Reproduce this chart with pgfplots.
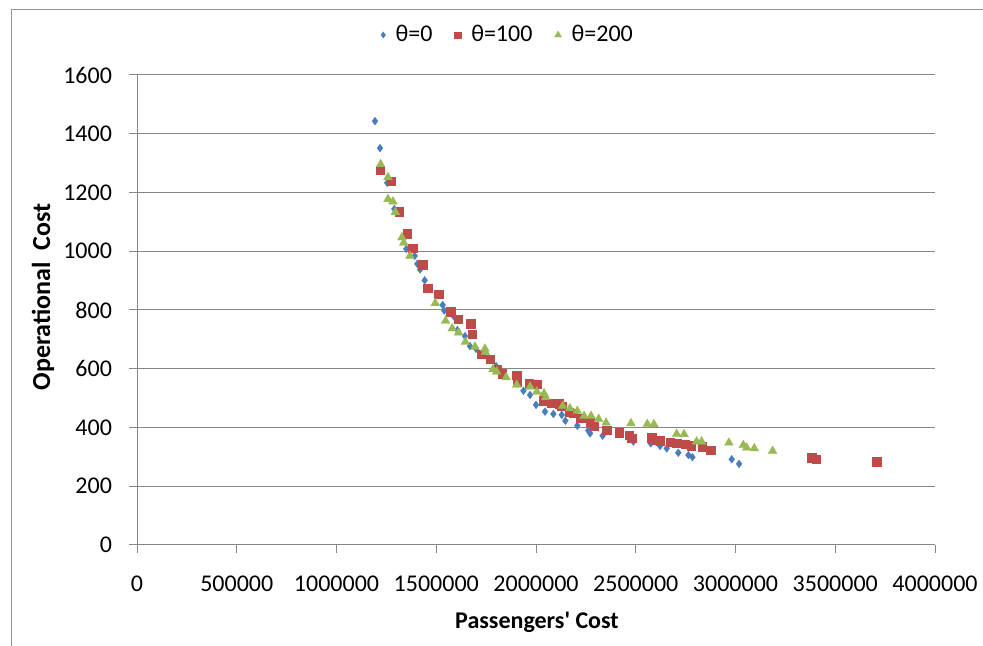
\documentclass[border=0pt]{standalone}
\usepackage{fontspec}
\setmainfont{Carlito}
\usepackage{pgfplots}
\pgfplotsset{compat=1.18}
\definecolor{sblue}{RGB}{74,126,187}
\definecolor{sred}{RGB}{190,75,72}
\definecolor{sgreen}{RGB}{152,185,84}
\definecolor{gridc}{RGB}{134,134,134}
\definecolor{borderc}{RGB}{150,150,150}
\begin{document}
\begin{tikzpicture}
\useasboundingbox (0,0) rectangle (491.5pt,323pt);
\draw[borderc, line width=0.5pt] (5.5pt,0) -- (5.5pt,318pt) -- (491.5pt,318pt);
\begin{axis}[
  at={(68.5pt,50.5pt)}, anchor=south west,
  scale only axis, width=399pt, height=235pt,
  xmin=0, xmax=4000000, ymin=0, ymax=1600,
  xtick={0,500000,1000000,1500000,2000000,2500000,3000000,3500000,4000000},
  ytick={0,200,...,1600},
  scaled x ticks=false, scaled y ticks=false,
  /pgf/number format/fixed,
  /pgf/number format/1000 sep={},
  /pgf/number format/assume math mode=true,
  ticklabel style={font=\fontsize{12}{14}\selectfont},
  xticklabel style={yshift=-8pt},
  yticklabel style={xshift=-5pt},
  axis x line*=bottom, axis y line*=left,
  axis line style={gridc, line width=0.5pt},
  tick style={gridc, line width=0.5pt},
  tick align=outside, major tick length=4pt,
  ymajorgrids, grid style={gridc, line width=0.5pt},
  legend style={at={(axis description cs:0.466,1)}, anchor=center, yshift=20pt,
    draw=none, fill=none, font=\fontsize{12}{14}\selectfont,
    /tikz/every even column/.append style={column sep=9pt},
    /tikz/every odd column/.append style={column sep=3pt}},
  legend columns=-1,
  legend image post style={scale=0.8},
]
\addplot[only marks, mark=diamond*, mark size=2pt, color=sblue, mark options={fill=sblue, draw=sblue, line width=0.1pt}] coordinates {
(1193000,1443) (1218000,1351) (1254000,1233) (1290000,1144) (1350000,1008)
(1392000,984) (1405000,957) (1419000,938) (1442000,901) (1532000,817)
(1540000,798) (1586000,780) (1606000,732) (1644000,711) (1669000,677)
(1699000,668) (1800000,609) (1937000,525) (1970000,511) (2000000,477)
(2045000,454) (2087000,446) (2129000,443) (2147000,423) (2207000,406)
(2262000,390) (2271000,380) (2334000,372) (2488000,352) (2575000,346)
(2622000,337) (2655000,329) (2713000,314) (2764000,306) (2784000,299)
(2981000,292) (3018000,276)
};
\addlegendentry{θ=0}
\addplot[only marks, mark=square*, mark size=2.1pt, color=sred, mark options={fill=sred, draw=sred, line width=0.1pt}] coordinates {
(1218000,1277) (1273000,1239) (1313000,1135) (1353000,1060) (1382000,1010)
(1432000,954) (1457000,874) (1512000,854) (1572000,794) (1608000,769)
(1673000,753) (1681000,717) (1724000,650) (1771000,632) (1806000,598)
(1831000,584) (1903000,579) (1906000,556) (1966000,550) (2004000,548)
(2037000,491) (2079000,484) (2117000,482) (2129000,473) (2167000,452)
(2187000,448) (2224000,431) (2271000,418) (2291000,405) (2354000,391)
(2416000,382) (2468000,374) (2480000,363) (2580000,365) (2602000,357)
(2622000,355) (2672000,350) (2705000,346) (2747000,343) (2776000,338)
(2834000,335) (2876000,323) (3382000,298) (3404000,292) (3708000,284)
};
\addlegendentry{θ=100}
\addplot[only marks, mark=triangle*, mark size=2.6pt, color=sgreen, mark options={fill=sgreen, draw=sgreen, line width=0.1pt}] coordinates {
(1221000,1296) (1258000,1252) (1258000,1177) (1283000,1169) (1295000,1133)
(1328000,1047) (1337000,1029) (1368000,984) (1495000,823) (1547000,763)
(1580000,737) (1612000,723) (1646000,691) (1694000,675) (1744000,668)
(1746000,657) (1784000,598) (1803000,590) (1850000,571) (1903000,545)
(1970000,539) (2004000,522) (2040000,516) (2049000,503) (2134000,473)
(2170000,465) (2207000,456) (2241000,439) (2276000,439) (2314000,429)
(2351000,416) (2476000,414) (2558000,412) (2591000,411) (2705000,378)
(2742000,377) (2805000,352) (2830000,352) (2967000,348) (3039000,340)
(3056000,331) (3094000,329) (3186000,320)
};
\addlegendentry{θ=200}
\end{axis}
\node[rotate=90, font=\bfseries\fontsize{13}{15}\selectfont] at (21.5pt,174.5pt) {Operational\ \ Cost};
\node[font=\bfseries\fontsize{12}{14}\selectfont] at (268.5pt,12pt) {Passengers\textquotesingle\ Cost};
\end{tikzpicture}
\end{document}
